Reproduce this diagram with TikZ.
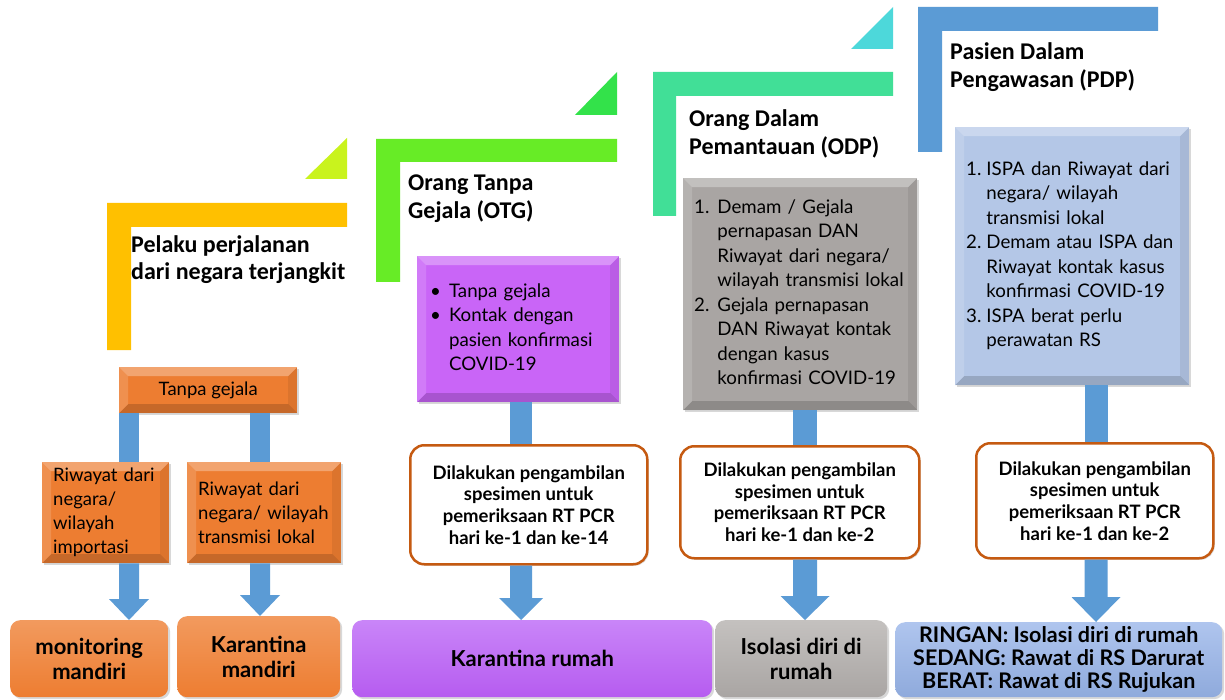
\documentclass[tikz,border=0pt]{standalone}
\usepackage{fontspec}
\setmainfont{Lato}
\newfontfamily\headfont{Carlito}
\usetikzlibrary{calc,shadows}
\definecolor{cYel}{HTML}{FFC000}
\definecolor{cLime}{HTML}{C9F31D}
\definecolor{cGreen}{HTML}{67EC26}
\definecolor{cGreenT}{HTML}{33E24A}
\definecolor{cTeal}{HTML}{41DF97}
\definecolor{cCyan}{HTML}{4DD8DA}
\definecolor{cBlue}{HTML}{5B9BD5}
\definecolor{cOrange}{HTML}{ED7D31}
\definecolor{cOrangeL}{HTML}{F29A5E}
\definecolor{cOrangeD}{HTML}{C55A11}
\definecolor{cPurple}{HTML}{C965F7}
\definecolor{cPurpleB}{HTML}{B65CF0}
\definecolor{cPurpleL}{HTML}{C985F8}
\definecolor{cGray}{HTML}{A9A5A3}
\definecolor{cGrayL}{HTML}{C4C1BF}
\definecolor{cPale}{HTML}{B4C7E7}
\definecolor{cBlueB}{HTML}{8FAADC}
\definecolor{cBlueBL}{HTML}{AFC5EE}
\newcommand\blockbar[3]{\fill[cBlue] ($(#1)+(-#3,0)$) rectangle ($(#2)+(#3,0)$);}
\newcommand\blockarrow[5]{\fill[cBlue] ($(#1)+(-#3,0)$) -- ($(#2)+(-#3,-#5)$) -- ($(#2)+(-#4,-#5)$) -- (#2) -- ($(#2)+(#4,-#5)$) -- ($(#2)+(#3,-#5)$) -- ($(#1)+(#3,0)$) -- cycle;}
\begin{document}
\begin{tikzpicture}[x=1pt,y=-1pt,
  bevel/.style={path picture={
    \coordinate (bvA) at (path picture bounding box.north west);
    \coordinate (bvB) at (path picture bounding box.north east);
    \coordinate (bvC) at (path picture bounding box.south east);
    \coordinate (bvD) at (path picture bounding box.south west);
    \fill[white,opacity=.30] (bvA) -- (bvB) -- ($(bvB)+(-9,9)$) -- ($(bvA)+(9,9)$) -- cycle;
    \fill[white,opacity=.15] (bvA) -- ($(bvA)+(9,9)$) -- ($(bvD)+(9,-9)$) -- (bvD) -- cycle;
    \fill[black,opacity=.16] (bvD) -- ($(bvD)+(9,-9)$) -- ($(bvC)+(-9,-9)$) -- (bvC) -- cycle;
    \fill[black,opacity=.07] (bvB) -- (bvC) -- ($(bvC)+(-9,-9)$) -- ($(bvB)+(-9,9)$) -- cycle;
  }},
  bevbox/.style={inner sep=0pt, anchor=north west, bevel,
    drop shadow={opacity=.3,shadow xshift=2pt,shadow yshift=-2pt}},
  otxt/.style={font=\fontsize{18.5}{24}\selectfont},
  ltxt/.style={font=\fontsize{18.7}{24.5}\selectfont},
  head/.style={inner sep=0pt, anchor=north west, align=left,
    font=\headfont\bfseries\fontsize{24}{27.5}\selectfont},
  wbox/.style={draw=cOrangeD, line width=2.5pt, fill=white, rounded corners=14pt,
    inner sep=0pt, anchor=north west, align=center,
    font=\bfseries\fontsize{18.5}{21.7}\selectfont,
    drop shadow={opacity=.25,shadow xshift=1.5pt,shadow yshift=-1.5pt}},
  bot/.style={rounded corners=10pt, inner sep=0pt, anchor=north west, align=center,
    font=\bfseries\fontsize{22}{25}\selectfont,
    drop shadow={opacity=.3,shadow xshift=2pt,shadow yshift=-2pt}}
]
\useasboundingbox (0,0) rectangle (1225,700);
\fill[white] (0,0) rectangle (1225,700);

% ---- step shapes ----
\fill[cYel] (107,203) -- (347,203) -- (347,227) -- (131,227) -- (131,350) -- (107,350) -- cycle;
\fill[cLime] (305,179) -- (347,179) -- (347,138) -- cycle;
\fill[cGreen] (376,139) -- (617,139) -- (617,162) -- (400,162) -- (400,282) -- (376,282) -- cycle;
\fill[cGreenT] (575,115) -- (617,115) -- (617,72) -- cycle;
\fill[cTeal] (653,72) -- (893,72) -- (893,96) -- (676,96) -- (676,216) -- (653,216) -- cycle;
\fill[cCyan] (851,49) -- (893,49) -- (893,7) -- cycle;
\fill[cBlue] (918,7) -- (1158,7) -- (1158,31) -- (942,31) -- (942,152) -- (918,152) -- cycle;

% ---- headings ----
\node[head] (h1) at (131,235) {Pelaku perjalanan\\dari negara terjangkit};
\node[head] (h2) at (408,175) {Orang Tanpa\\Gejala (OTG)};
\node[head] (h3) at (689,109.5) {Orang Dalam\\Pemantauan (ODP)};
\node[head] (h4) at (950,42.5) {Pasien Dalam\\Pengawasan (PDP)};

% ---- stage 1 ----
\node[bevbox, fill=cOrange, otxt, minimum width=178pt, minimum height=46pt] (tg) at (119,367) {Tanpa gejala};
\node[bevbox, fill=cOrange, otxt, minimum width=127pt, minimum height=101pt,
  inner xsep=11pt, text width=105pt, align=left] (r1) at (42,462) {Riwayat dari\\negara/\\wilayah\\importasi};
\node[bevbox, fill=cOrange, otxt, minimum width=154pt, minimum height=101pt,
  inner xsep=11pt, text width=132pt, align=left] (r2) at (187,462) {Riwayat dari\\negara/ wilayah\\transmisi lokal};
\node[bot, top color=cOrangeL, bottom color=cOrange, minimum width=158pt, minimum height=77pt] (m1) at (10,620) {monitoring\\mandiri};
\node[bot, top color=cOrangeL, bottom color=cOrange, minimum width=163pt, minimum height=81pt] (m2) at (177,616) {Karantina\\mandiri};

% ---- stage 2 ----
\node[bevbox, fill=cPurple, ltxt, minimum width=202pt, minimum height=146pt,
  inner xsep=13pt, text width=176pt, align=left] (p) at (417,256)
  {\begin{tabular}{@{}l@{\hspace{8pt}}l@{}}\textbullet & Tanpa gejala\\ \textbullet & Kontak dengan\\ & pasien konfirmasi\\ & COVID-19\end{tabular}};
\node[wbox, minimum width=237pt, minimum height=119pt] (w2) at (409,444)
  {Dilakukan pengambilan\\spesimen untuk\\pemeriksaan RT PCR\\hari ke-1 dan ke-14};
\node[bot, top color=cPurpleL, bottom color=cPurpleB, minimum width=360pt, minimum height=77pt] (k) at (352,620) {Karantina rumah};

% ---- stage 3 ----
\node[bevbox, fill=cGray, ltxt, minimum width=234pt, minimum height=232pt,
  inner xsep=11pt, text width=212pt, align=left] (g) at (683,178)
  {\begin{tabular}{@{}r@{\hspace{8pt}}l@{}}1. & Demam / Gejala\\ & pernapasan DAN\\ & Riwayat dari negara/\\ & wilayah transmisi lokal\\
   2. & Gejala pernapasan\\ & DAN Riwayat kontak\\ & dengan kasus\\ & konfirmasi COVID-19\end{tabular}};
\node[wbox, minimum width=239pt, minimum height=112pt] (w3) at (679,445)
  {Dilakukan pengambilan\\spesimen untuk\\pemeriksaan RT PCR\\hari ke-1 dan ke-2};
\node[bot, top color=cGrayL, bottom color=cGray, minimum width=172pt, minimum height=77pt] (iso) at (715,620) {Isolasi diri di\\rumah};

% ---- stage 4 ----
\node[bevbox, fill=cPale, ltxt, minimum width=234pt, minimum height=258pt,
  inner xsep=11pt, text width=212pt, align=left] (b) at (955,127)
  {\begin{tabular}{@{}r@{\hspace{5pt}}l@{}}1. & ISPA dan Riwayat dari\\ & negara/ wilayah\\ & transmisi lokal\\
   2. & Demam atau ISPA dan\\ & Riwayat kontak kasus\\ & konfirmasi COVID-19\\ 3. & ISPA berat perlu\\ & perawatan RS\end{tabular}};
\node[wbox, minimum width=237pt, minimum height=115pt] (w4) at (975,442)
  {Dilakukan pengambilan\\spesimen untuk\\pemeriksaan RT PCR\\hari ke-1 dan ke-2};
\node[bot, top color=cBlueBL, bottom color=cBlueB, minimum width=327pt, minimum height=75pt,
  font=\bfseries\fontsize{21.5}{23}\selectfont] (rs) at (895,622)
  {RINGAN: Isolasi diri di rumah\\SEDANG: Rawat di RS Darurat\\BERAT: Rawat di RS Rujukan};

% ---- connectors ----
\coordinate (x1) at (129,0);
\coordinate (x2) at (260,0);
\coordinate (x3) at (521,0);
\coordinate (x4) at (805,0);
\coordinate (x5) at (1096,0);
\blockbar{tg.south -| x1}{r1.north -| x1}{10}
\blockbar{tg.south -| x2}{r2.north -| x2}{10}
\blockarrow{r1.south -| x1}{m1.north -| x1}{10}{20}{21}
\blockarrow{r2.south -| x2}{m2.north -| x2}{10}{20}{21}
\blockbar{p.south -| x3}{w2.north -| x3}{11}
\blockarrow{w2.south -| x3}{k.north -| x3}{11}{22}{22}
\blockbar{g.south -| x4}{w3.north -| x4}{12}
\blockarrow{w3.south -| x4}{iso.north -| x4}{12}{24.5}{24}
\blockbar{b.south -| x5}{w4.north -| x5}{11.5}
\blockarrow{w4.south -| x5}{rs.north -| x5}{11.5}{24.5}{25}
\end{tikzpicture}
\end{document}
